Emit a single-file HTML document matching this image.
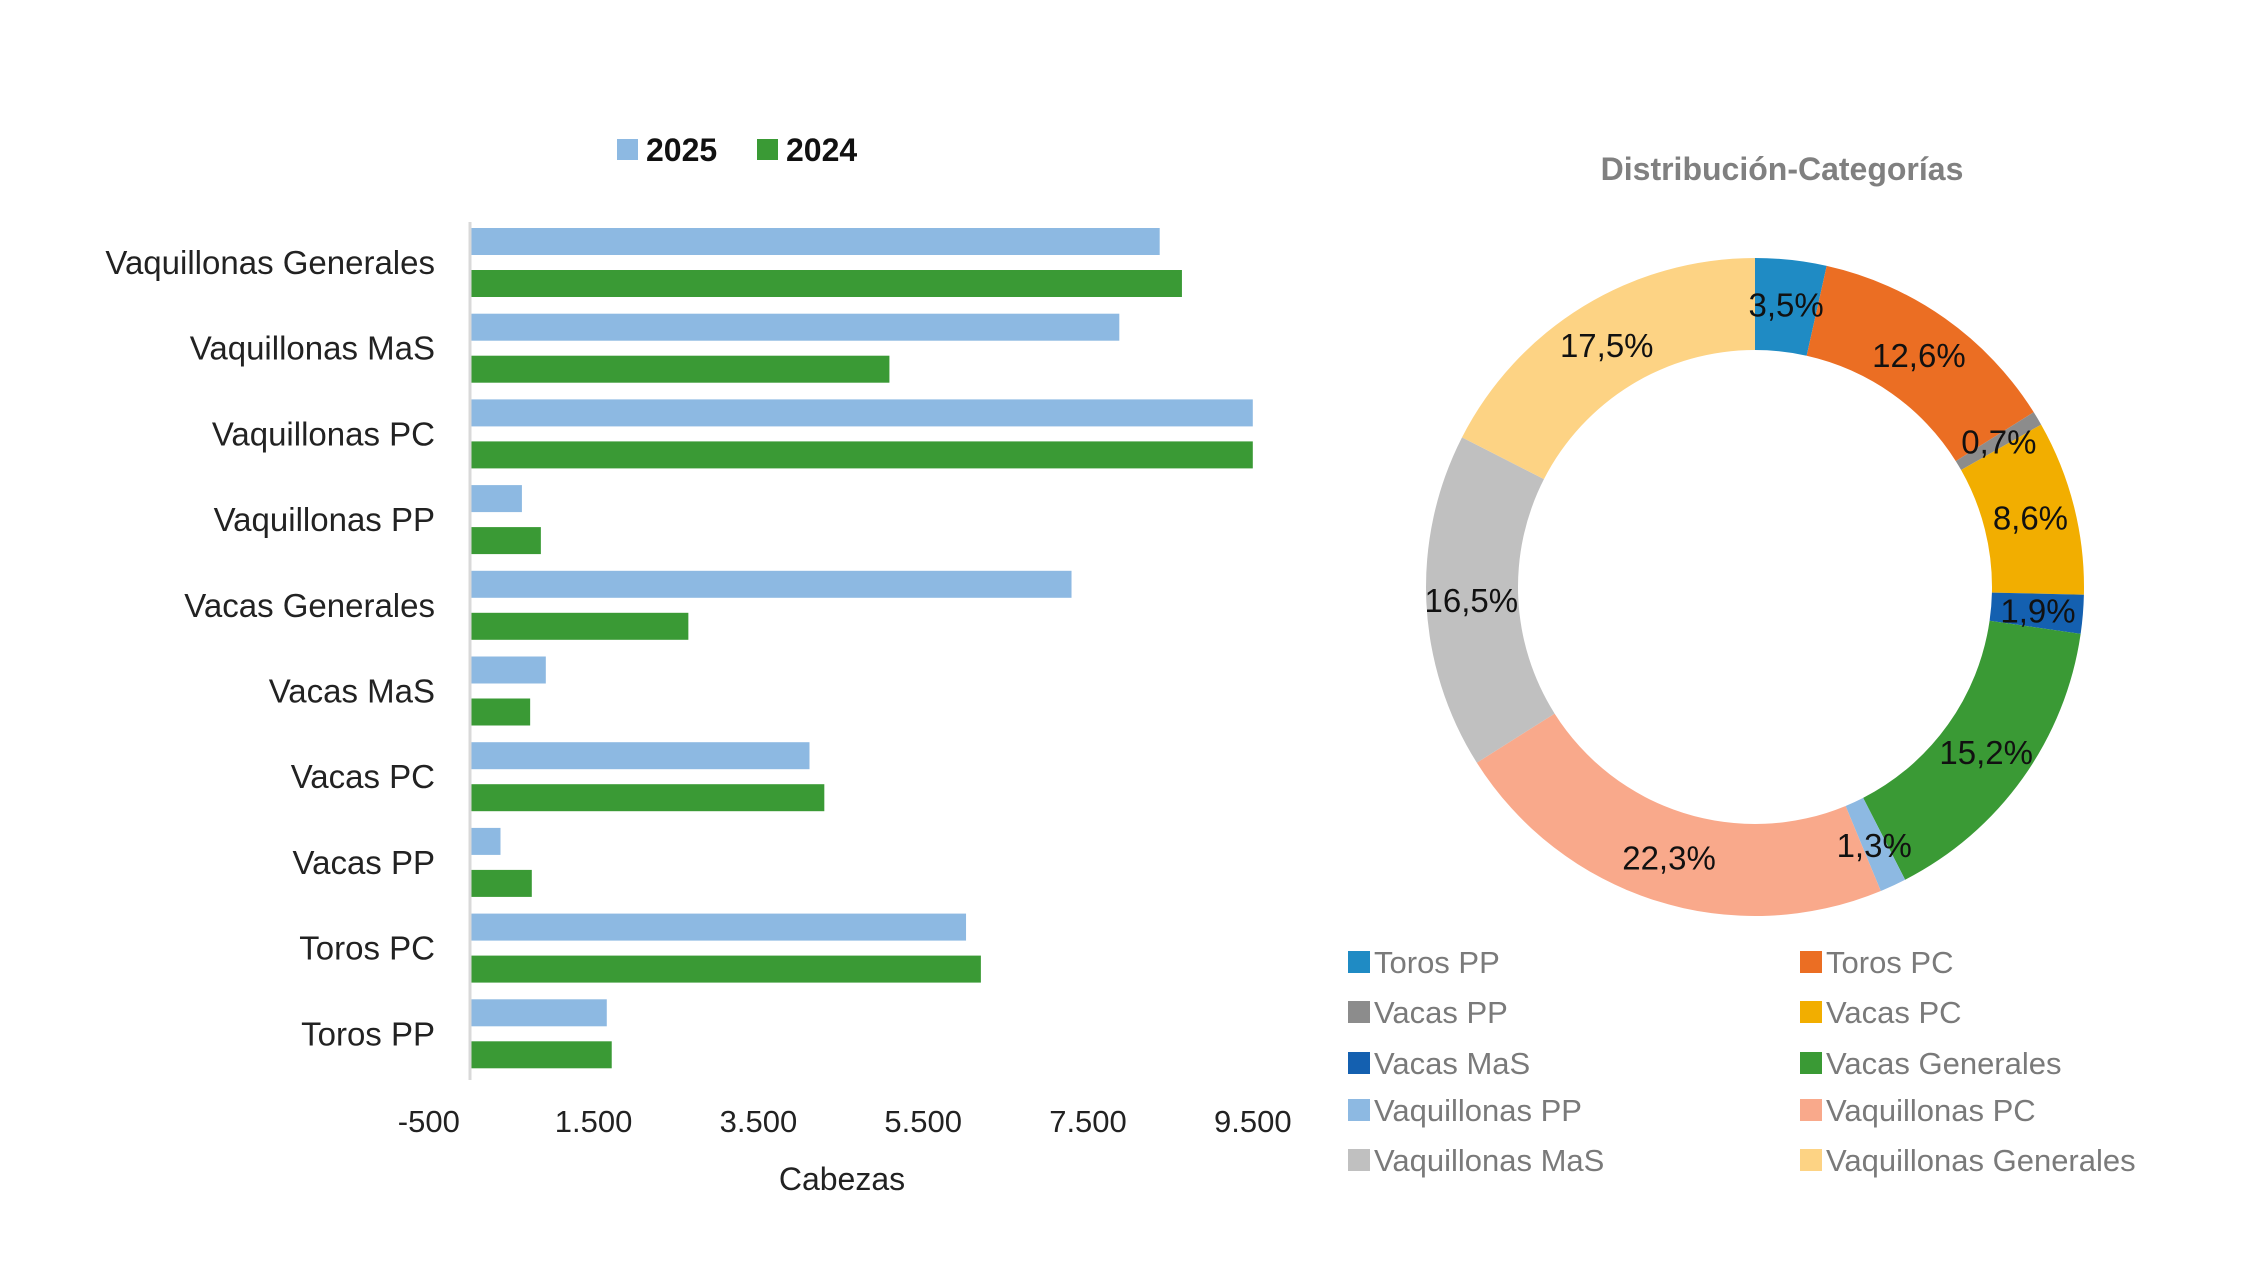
<!DOCTYPE html>
<html><head><meta charset="utf-8"><style>
body{margin:0;background:#fff;overflow:hidden;}
svg{display:block;font-family:"Liberation Sans",sans-serif;}
</style></head><body>
<svg id="c" width="2250" height="1276" viewBox="0 0 2250 1276" xmlns="http://www.w3.org/2000/svg">
<rect width="2250" height="1276" fill="#fff"/>
<g id="bars"></g>
<g id="donut"></g>
</svg>
<script>
const categories=["Vaquillonas Generales","Vaquillonas MaS","Vaquillonas PC","Vaquillonas PP","Vacas Generales","Vacas MaS","Vacas PC","Vacas PP","Toros PC","Toros PP"];
const values2025=[8370,7880,9500,630,7300,920,4120,370,6020,1660];
const values2024=[8640,5090,9500,860,2650,730,4300,750,6200,1720];
const xTicks=[-500,1500,3500,5500,7500,9500];
const xTickLabels=["-500","1.500","3.500","5.500","7.500","9.500"];
const pieLabels=["Toros PP","Toros PC","Vacas PP","Vacas PC","Vacas MaS","Vacas Generales","Vaquillonas PP","Vaquillonas PC","Vaquillonas MaS","Vaquillonas Generales"];
const pieValues=[3.5,12.6,0.7,8.6,1.9,15.2,1.3,22.3,16.5,17.5];
const pieValueLabels=["3,5%","12,6%","0,7%","8,6%","1,9%","15,2%","1,3%","22,3%","16,5%","17,5%"];
const pieColors=["#1F8BC4","#EB6E23","#8C8C8C","#F2AE00","#1460B0","#3A9A35","#8DB9E2","#F9A98B","#C0C0C0","#FDD384"];
const NS="http://www.w3.org/2000/svg";
function mk(tag,attrs,parent,text){const e=document.createElementNS(NS,tag);for(const k in attrs)e.setAttribute(k,attrs[k]);if(text!==undefined)e.textContent=text;parent.appendChild(e);return e;}
// bar chart
const B=document.getElementById('bars');
const x=v=>470+(v)*0.0824;
const groupY=i=>222+i*85.7;
xTicks.forEach((t,i)=>{const e=mk('text',{x:x(t),y:1132,'text-anchor':'middle','font-size':31,fill:'#222'},B,xTickLabels[i]);

});
categories.forEach((c,i)=>{
const g=groupY(i);
const r1=mk('rect',{x:x(0),y:g+6,width:x(values2025[i])-x(0),height:27,fill:'#8DB9E2'},B);


const r2=mk('rect',{x:x(0),y:g+48,width:x(values2024[i])-x(0),height:27,fill:'#3A9A35'},B);


const t=mk('text',{x:435,y:g+52,'text-anchor':'end','font-size':33,fill:'#222'},B,c);


});
const ax=mk('line',{x1:470,y1:222,x2:470,y2:1080,stroke:'#d9d9d9','stroke-width':3},B);


const xt=mk('text',{x:842,y:1190,'text-anchor':'middle','font-size':32,fill:'#222'},B,'Cabezas');


[[617,'#8DB9E2','2025',646],[757,'#3A9A35','2024',786]].forEach(l=>{
const s=mk('rect',{x:l[0],y:139,width:21,height:21,fill:l[1]},B);


const t=mk('text',{x:l[3],y:161,'font-size':32,'font-weight':'bold',fill:'#111'},B,l[2]);


});
// donut
const D=document.getElementById('donut');
const cx=1755,cy=587,R=329,r=237;
const tt=mk('text',{x:1782,y:180,'text-anchor':'middle','font-size':32,'font-weight':'bold',fill:'#808080'},D,'Distribución-Categorías');


const total=pieValues.reduce((a,b)=>a+b,0);
let acc=0;
const pt=(a,rad)=>[cx+rad*Math.sin(a),cy-rad*Math.cos(a)];
pieValues.forEach((v,i)=>{
const a0=acc/total*2*Math.PI;acc+=v;const a1=acc/total*2*Math.PI;
const lg=(a1-a0)>Math.PI?1:0;
const p1=pt(a0,R),p2=pt(a1,R),p3=pt(a1,r),p4=pt(a0,r);
const d=`M${p1[0]},${p1[1]} A${R},${R} 0 ${lg} 1 ${p2[0]},${p2[1]} L${p3[0]},${p3[1]} A${r},${r} 0 ${lg} 0 ${p4[0]},${p4[1]} Z`;
const s=mk('path',{d:d,fill:pieColors[i]},D);


});
acc=0;
pieValues.forEach((v,i)=>{
const am=(acc+v/2)/total*2*Math.PI;acc+=v;
const p=pt(am,284);
const t=mk('text',{x:p[0],y:p[1]+12,'text-anchor':'middle','font-size':33,fill:'#111'},D,pieValueLabels[i]);


});
pieLabels.forEach((l,i)=>{
const col=i%2,row=Math.floor(i/2);
const sx=col?1800:1348, y=[962,1012,1063,1110,1160][row];
const s=mk('rect',{x:sx,y:y-11,width:22,height:22,fill:pieColors[i]},D);


const t=mk('text',{x:sx+26,y:y+11,'font-size':31,fill:'#7a7a7a'},D,l);


});
</script>
</body></html>
